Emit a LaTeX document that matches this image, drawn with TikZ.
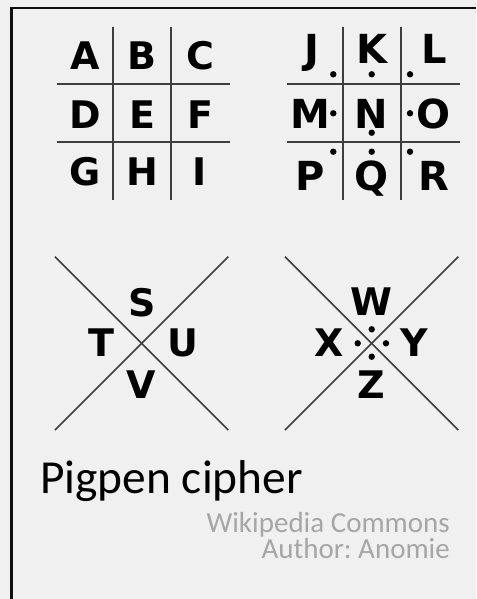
\documentclass[tikz,border=0pt]{standalone}
\usepackage{fontspec}
\setmainfont{Carlito}
\newfontfamily\glyphfont{DejaVu Sans}
\usepackage{xcolor}
\usepackage{tikz}
\usetikzlibrary{calc,positioning}
\definecolor{PageFill}{HTML}{F0F0F0}
\definecolor{FrameEdge}{HTML}{101010}
\definecolor{GridInk}{HTML}{3E3E3E}
\definecolor{CreditGray}{HTML}{A6A6A6}
\newcommand{\glyphsize}[1]{\glyphfont\bfseries\fontsize{#1}{#1}\selectfont}
\frenchspacing

\begin{document}
\begin{tikzpicture}[
        x=1pt, y=-1pt,
        gridline/.style={draw=GridInk, line width=2.2pt},
        crossline/.style={draw=GridInk, line width=1.5pt},
        letter/.style={anchor=base, inner sep=0pt, font=\glyphsize{38}},
        bigletter/.style={anchor=base, inner sep=0pt, font=\glyphsize{40}},
        credit/.style={anchor=base east, inner sep=0pt, text=CreditGray,
            text depth=0pt, text height=18pt, font=\fontsize{29}{30}\selectfont},
        pip/.style={fill=black, draw=none}
    ]
        % page and frame
        \useasboundingbox (0,0) rectangle (476,599);
        \fill[PageFill] (0,0) rectangle (476,599);
        \draw[FrameEdge, line width=2.8pt] (11.7,599) -- (11.7,8) -- (476,8);

        % first grid
        \draw[gridline] (56.7,84.3) -- (230,84.3);
        \draw[gridline] (56.7,142) -- (230,142);
        \draw[gridline] (113.3,26.7) -- (113.3,200);
        \draw[gridline] (170.7,26.7) -- (170.7,200);
        \node[letter] (la) at (85,70) {A};
        \node[letter] (lb) at (142,70) {B};
        \node[letter] (lc) at (200,70) {C};
        \node[letter] (ld) at (85,128.3) {D};
        \node[letter] (le) at (142,128.3) {E};
        \node[letter] (lf) at (200,128.3) {F};
        \node[letter] (lg) at (85,185) {G};
        \node[letter] (lh) at (142,185) {H};
        \node[letter] (li) at (200,185) {I};

        % second grid, with dots
        \draw[gridline] (286.7,84.3) -- (460,84.3);
        \draw[gridline] (286.7,142) -- (460,142);
        \draw[gridline] (343.3,26.7) -- (343.3,200);
        \draw[gridline] (400.7,26.7) -- (400.7,200);
        \node[bigletter] (lj) at (311.7,64) {J};
        \node[bigletter] (lk) at (371.7,64) {K};
        \node[bigletter] (ll) at (434,64) {L};
        \node[bigletter] (lm) at (310.7,128.3) {M};
        \node[bigletter] (ln) at (371.7,128.3) {N};
        \node[bigletter] (lo) at (433,128.3) {O};
        \node[bigletter] (lp) at (310,190) {P};
        \node[bigletter] (lq) at (371.7,190) {Q};
        \node[bigletter] (lr) at (434,190) {R};
        \fill[pip] (333.3,74.3) circle (3.2);
        \fill[pip] (371.7,74.3) circle (3.2);
        \fill[pip] (410,74.3) circle (3.2);
        \fill[pip] (333.3,113.3) circle (3.2);
        \fill[pip] (410,113.3) circle (3.2);
        \fill[pip] (371.7,132.7) circle (3.2);
        \fill[pip] (333.3,151.7) circle (3.2);
        \fill[pip] (371.7,151.7) circle (3.2);
        \fill[pip] (410,151.7) circle (3.2);

        % first cross
        \draw[crossline] (55,256.7) -- (228.3,430);
        \draw[crossline] (55,430) -- (228.3,256.7);
        \node[letter] (ls) at (141.7,316) {S};
        \node[letter] (lt) at (101.7,356.7) {T};
        \node[letter] (lu) at (183.3,356.7) {U};
        \node[letter] (lv) at (141.7,398) {V};

        % second cross, with dots
        \draw[crossline] (285,256.7) -- (458.3,430);
        \draw[crossline] (285,430) -- (458.3,256.7);
        \node[letter] (lw) at (371.7,315) {W};
        \node[letter] (lx) at (329,356.7) {X};
        \node[letter] (ly) at (414,356.7) {Y};
        \node[letter] (lz) at (371.7,398) {Z};
        \fill[pip] (371.7,329.3) circle (3.2);
        \fill[pip] (357.7,343.3) circle (3.2);
        \fill[pip] (386,343.3) circle (3.2);
        \fill[pip] (371.7,356.7) circle (3.2);

        % caption and credits
        \node[anchor=base west, inner sep=0pt, font=\fontsize{47.4}{50}\selectfont] (title) at (40,493) {Pigpen cipher};
        \node[credit] (source) at (450,532.7) {Wikipedia Commons};
        \node[credit] (author) at (450,558.3) {Author: Anomie};
    \end{tikzpicture}
\end{document}
